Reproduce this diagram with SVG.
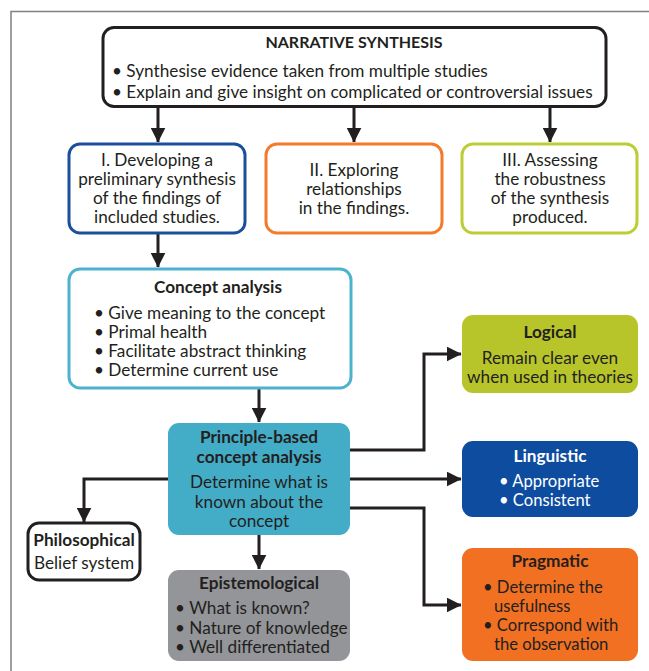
<svg xmlns="http://www.w3.org/2000/svg" width="649" height="671" viewBox="0 0 649 671">
<defs>
<style>
text{font-family:Lato,"Open Sans","Liberation Sans",sans-serif;font-size:17.2px;fill:#231f20}
.b{font-weight:bold}
.c{text-anchor:middle}
.w{fill:#ffffff}
.t{font-size:16px}
.s{font-size:16.6px}
.box{stroke-width:3}
.conn{fill:none;stroke:#231f20;stroke-width:3}
</style>
<marker id="ah" markerWidth="5" markerHeight="5" refX="4.8" refY="2.5" orient="auto" markerUnits="strokeWidth">
<path d="M0,0 L5,2.5 L0,5 Z" fill="#231f20"/>
</marker>
</defs>
<rect width="649" height="671" fill="#ffffff"/>
<path d="M11,671 V11.5 H649" fill="none" stroke="#808080" stroke-width="1.5"/>

<g id="connectors">
<path class="conn" d="M158,107 V142" marker-end="url(#ah)"/>
<path class="conn" d="M354,107 V142" marker-end="url(#ah)"/>
<path class="conn" d="M550,107 V142" marker-end="url(#ah)"/>
<path class="conn" d="M158,234 V267" marker-end="url(#ah)"/>
<path class="conn" d="M259,388 V422" marker-end="url(#ah)"/>
<path class="conn" d="M350,450 H424 V354 H461" marker-end="url(#ah)"/>
<path class="conn" d="M168,479 H84 V522" marker-end="url(#ah)"/>
<path class="conn" d="M350,479 H461" marker-end="url(#ah)"/>
<path class="conn" d="M350,508 H424 V605 H461" marker-end="url(#ah)"/>
<path class="conn" d="M259,535 V569" marker-end="url(#ah)"/>
</g>

<g id="narrative">
<rect class="box" x="103" y="27.5" width="503" height="79" rx="11" fill="#ffffff" stroke="#231f20"/>
<text class="b c t" x="354" y="48">NARRATIVE SYNTHESIS</text>
<text x="112" y="77">• Synthesise evidence taken from multiple studies</text>
<text x="112" y="98">• Explain and give insight on complicated or controversial issues</text>
</g>

<g id="stage1">
<rect class="box" x="69" y="144" width="176" height="89" rx="11" fill="#ffffff" stroke="#1b4f9c"/>
<text class="c" x="157" y="166">I. Developing a</text>
<text class="c" x="157" y="185">preliminary synthesis</text>
<text class="c" x="157" y="204">of the findings of</text>
<text class="c" x="157" y="223">included studies.</text>
</g>

<g id="stage2">
<rect class="box" x="266" y="144" width="176" height="89" rx="11" fill="#ffffff" stroke="#f47b2a"/>
<text class="c" x="354" y="176">II. Exploring</text>
<text class="c" x="354" y="195">relationships</text>
<text class="c" x="354" y="214">in the findings.</text>
</g>

<g id="stage3">
<rect class="box" x="462" y="144" width="175" height="89" rx="11" fill="#ffffff" stroke="#bccd37"/>
<text class="c" x="550" y="166">III. Assessing</text>
<text class="c" x="550" y="185">the robustness</text>
<text class="c" x="550" y="204">of the synthesis</text>
<text class="c" x="550" y="223">produced.</text>
</g>

<g id="concept">
<rect class="box" x="69" y="269" width="282" height="119" rx="11" fill="#ffffff" stroke="#4eb2ce"/>
<text class="b c" x="218" y="293">Concept analysis</text>
<text x="94" y="319">• Give meaning to the concept</text>
<text x="94" y="338">• Primal health</text>
<text x="94" y="357">• Facilitate abstract thinking</text>
<text x="94" y="376">• Determine current use</text>
</g>

<g id="principle">
<rect x="168" y="423" width="182" height="112" rx="11" fill="#43acc7"/>
<text class="b c" x="259" y="443">Principle-based</text>
<text class="b c" x="259" y="463">concept analysis</text>
<text class="c" x="259" y="488">Determine what is</text>
<text class="c" x="259" y="508">known about the</text>
<text class="c" x="259" y="527">concept</text>
</g>

<g id="logical">
<rect x="462" y="315" width="176" height="78" rx="11" fill="#b7c52a"/>
<text class="b c" x="550" y="338">Logical</text>
<text class="c" x="550" y="364">Remain clear even</text>
<text class="c" x="550" y="383">when used in theories</text>
</g>

<g id="linguistic">
<rect x="462" y="441" width="176" height="76" rx="11" fill="#0d4c9f"/>
<text class="b c w" x="550" y="462">Linguistic</text>
<text class="w s" x="499" y="487">• Appropriate</text>
<text class="w s" x="499" y="506">• Consistent</text>
</g>

<g id="pragmatic">
<rect x="462" y="548" width="176" height="113" rx="11" fill="#f27022"/>
<text class="b c" x="550" y="567">Pragmatic</text>
<text class="s" x="483" y="593">• Determine the</text>
<text class="s" x="494" y="612">usefulness</text>
<text class="s" x="483" y="631">• Correspond with</text>
<text class="s" x="494" y="650">the observation</text>
</g>

<g id="philosophical">
<rect class="box" x="28" y="523" width="112" height="57" rx="11" fill="#ffffff" stroke="#231f20"/>
<text class="b c" x="84" y="546">Philosophical</text>
<text class="c" x="84" y="569">Belief system</text>
</g>

<g id="epistemological">
<rect x="168" y="570" width="182" height="91" rx="11" fill="#939598"/>
<text class="b c" x="259" y="589">Epistemological</text>
<text x="175" y="614">• What is known?</text>
<text x="175" y="634">• Nature of knowledge</text>
<text x="175" y="653">• Well differentiated</text>
</g>
</svg>
